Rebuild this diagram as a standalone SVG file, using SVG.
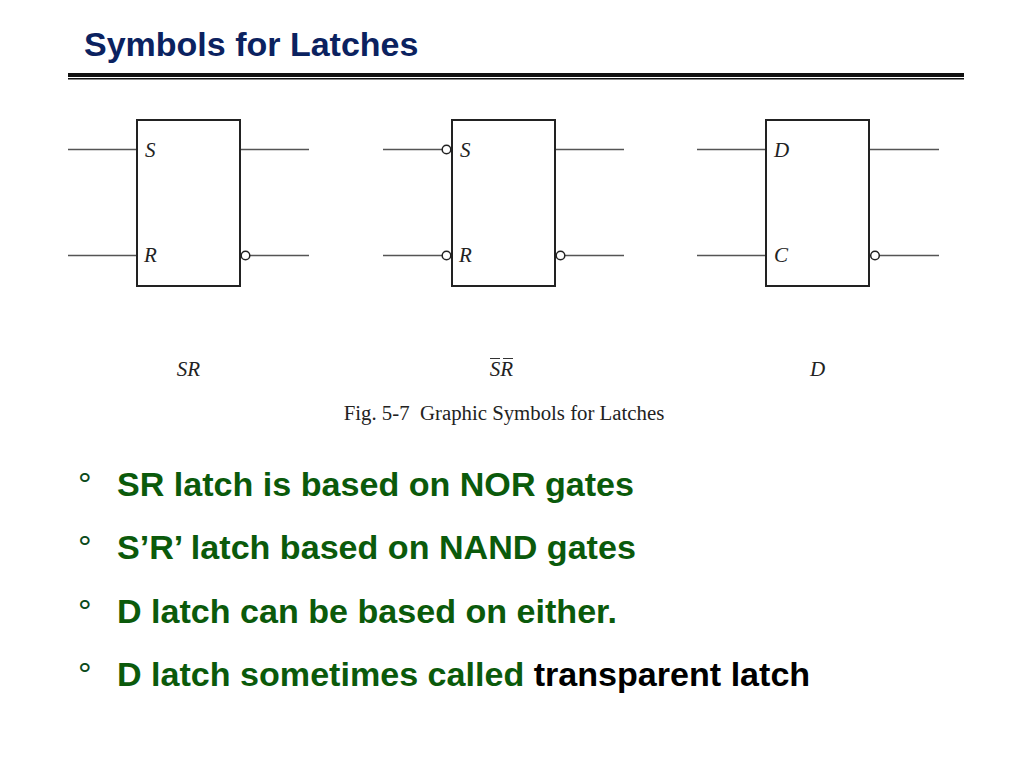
<svg xmlns="http://www.w3.org/2000/svg" width="1024" height="768" viewBox="0 0 1024 768">
<style>
.box{fill:#fff;stroke:#222;stroke-width:2}
.wire{stroke:#555;stroke-width:1.5;fill:none}
.bub{fill:#fff;stroke:#222;stroke-width:1.5}
.pin{font-family:"Liberation Serif",serif;font-style:italic;font-size:21px;fill:#222}
.cap{font-family:"Liberation Serif",serif;font-style:italic;font-size:21px;fill:#222;text-anchor:middle}
.bar{stroke:#333;stroke-width:1.2}
.item{font-family:"Liberation Sans",Arial,sans-serif;font-weight:bold;font-size:34.100px;fill:#0b5a0b}
.deg{font-family:"Liberation Sans",Arial,sans-serif;font-size:34px;fill:#0b4a1b}
</style>
<rect width="1024" height="768" fill="#fff"/>
<text id="title" x="84" y="55.500" font-family="'Liberation Sans',Arial,sans-serif" font-weight="bold" font-size="34px" fill="#0b2260">Symbols for Latches</text>
<rect x="68" y="73" width="896" height="4" fill="#111"/>
<rect x="68" y="78" width="896" height="1.500" fill="#111"/>
<g id="connectors">
<path class="wire" d="M68 149.500H137M68 255.500H137M241 149.500H309M250 255.500H309"/>
<path class="wire" d="M383 149.500H442M383 255.500H442M555 149.500H624M565 255.500H624"/>
<path class="wire" d="M697 149.500H766M697 255.500H766M870 149.500H939M879 255.500H939"/>
</g>
<g id="sr-latch">
<rect class="box" x="137" y="120" width="103" height="166"/>
<circle class="bub" cx="245.500" cy="255.500" r="4.300"/>
<text class="pin" x="145" y="156.500">S</text>
<text class="pin" x="144" y="262">R</text>
</g>
<g id="sr-bar-latch">
<rect class="box" x="452" y="120" width="103" height="166"/>
<circle class="bub" cx="446.500" cy="149.500" r="4.300"/>
<circle class="bub" cx="446.500" cy="255.500" r="4.300"/>
<circle class="bub" cx="560.500" cy="255.500" r="4.300"/>
<text class="pin" x="460" y="156.500">S</text>
<text class="pin" x="459" y="262">R</text>
</g>
<g id="d-latch">
<rect class="box" x="766" y="120" width="103" height="166"/>
<circle class="bub" cx="875" cy="255.500" r="4.300"/>
<text class="pin" x="774" y="156.500">D</text>
<text class="pin" x="774" y="262">C</text>
</g>
<g id="captions">
<text class="cap" x="188.500" y="376">SR</text>
<text class="cap" x="501.500" y="376">SR</text>
<path class="bar" d="M490 358.500H500M503 358.500H513"/>
<text class="cap" x="817.500" y="376">D</text>
<text x="504" y="420" text-anchor="middle" font-family="'Liberation Serif',serif" font-size="20.800px" fill="#222">Fig. 5-7&#160; Graphic Symbols for Latches</text>
</g>
<g id="bullets">
<text class="deg" x="78" y="496">°</text>
<text class="item" x="117" y="495.500">SR latch is based on NOR gates</text>
<text class="deg" x="78" y="559">°</text>
<text class="item" x="117" y="558.500">S’R’ latch based on NAND gates</text>
<text class="deg" x="78" y="623">°</text>
<text class="item" x="117" y="622.500">D latch can be based on either.</text>
<text class="deg" x="78" y="686">°</text>
<text class="item" x="117" y="685.500">D latch sometimes called <tspan fill="#000">transparent latch</tspan></text>
</g>
</svg>
